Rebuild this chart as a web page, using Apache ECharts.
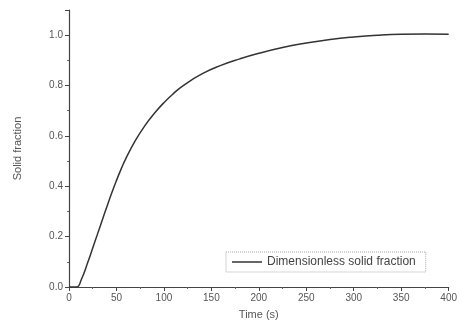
<!DOCTYPE html>
<html><head><meta charset="utf-8">
<script src="https://cdn.jsdelivr.net/npm/echarts@6/dist/echarts.min.js"></script>
<style>html,body{margin:0;padding:0;background:#fff}#c{width:460px;height:328px}</style>
</head><body><div id="c"></div>
<script>
var timeValues = [0, 8, 13, 20, 25, 30, 35, 40, 45, 50, 55, 60, 70, 80, 90, 100, 110, 120, 140, 160, 180, 200, 225, 250, 275, 300, 325, 350, 375, 400];
var solidFraction = [0, 0, 0.03, 0.10, 0.155, 0.21, 0.265, 0.32, 0.373, 0.423, 0.469, 0.511, 0.582, 0.641, 0.690, 0.732, 0.768, 0.799, 0.846, 0.880, 0.906, 0.928, 0.951, 0.969, 0.983, 0.993, 1.0, 1.004, 1.005, 1.004];
var seriesName = 'Dimensionless solid fraction';
var data = timeValues.map(function (t, i) { return [t, solidFraction[i]]; });
var chart = echarts.init(document.getElementById('c'));
var txt = '#555';
chart.setOption({
  animation: false,
  grid: {left: 69, right: 11, top: 10, bottom: 41},
  legend: {
    data: [{name: seriesName, icon: 'path://M0,0H30V1.5H0Z'}],
    left: 226, top: 252, itemWidth: 30, itemHeight: 2, itemGap: 4,
    padding: [4, 10, 4, 6],
    borderColor: '#aaa', borderWidth: 1, borderType: 'dotted',
    textStyle: {fontFamily: 'Liberation Sans', fontSize: 12, color: '#444'}
  },
  xAxis: {
    type: 'value', min: 0, max: 400, interval: 50,
    name: 'Time (s)', nameLocation: 'middle', nameGap: 22,
    nameTextStyle: {fontFamily: 'Liberation Sans', fontSize: 11, color: txt},
    axisLine: {lineStyle: {color: '#444', width: 1.2}},
    axisTick: {show: true, inside: false, length: 4, lineStyle: {color: '#444'}},
    minorTick: {show: true, splitNumber: 2, length: 2, lineStyle: {color: '#666'}},
    splitLine: {show: false},
    axisLabel: {fontFamily: 'Liberation Sans', fontSize: 10, color: txt, margin: 6}
  },
  yAxis: {
    type: 'value', min: 0, max: 1.1, interval: 0.2,
    name: 'Solid fraction', nameLocation: 'middle', nameGap: 46, nameRotate: 90,
    nameTextStyle: {fontFamily: 'Liberation Sans', fontSize: 11, color: txt},
    axisLine: {show: true, lineStyle: {color: '#444', width: 1.2}},
    axisTick: {show: true, inside: false, length: 4, lineStyle: {color: '#444'}},
    minorTick: {show: true, splitNumber: 2, length: 2, lineStyle: {color: '#666'}},
    splitLine: {show: false},
    axisLabel: {fontFamily: 'Liberation Sans', fontSize: 10, color: txt, margin: 6,
      formatter: function (v) { return Math.abs(v * 5 - Math.round(v * 5)) < 1e-6 ? v.toFixed(1) : ''; }}
  },
  series: [{
    name: seriesName, type: 'line', data: data, smooth: 0.5, symbol: 'none',
    lineStyle: {color: '#333', width: 1.5}, itemStyle: {color: '#333'}
  }]
});
</script></body></html>
